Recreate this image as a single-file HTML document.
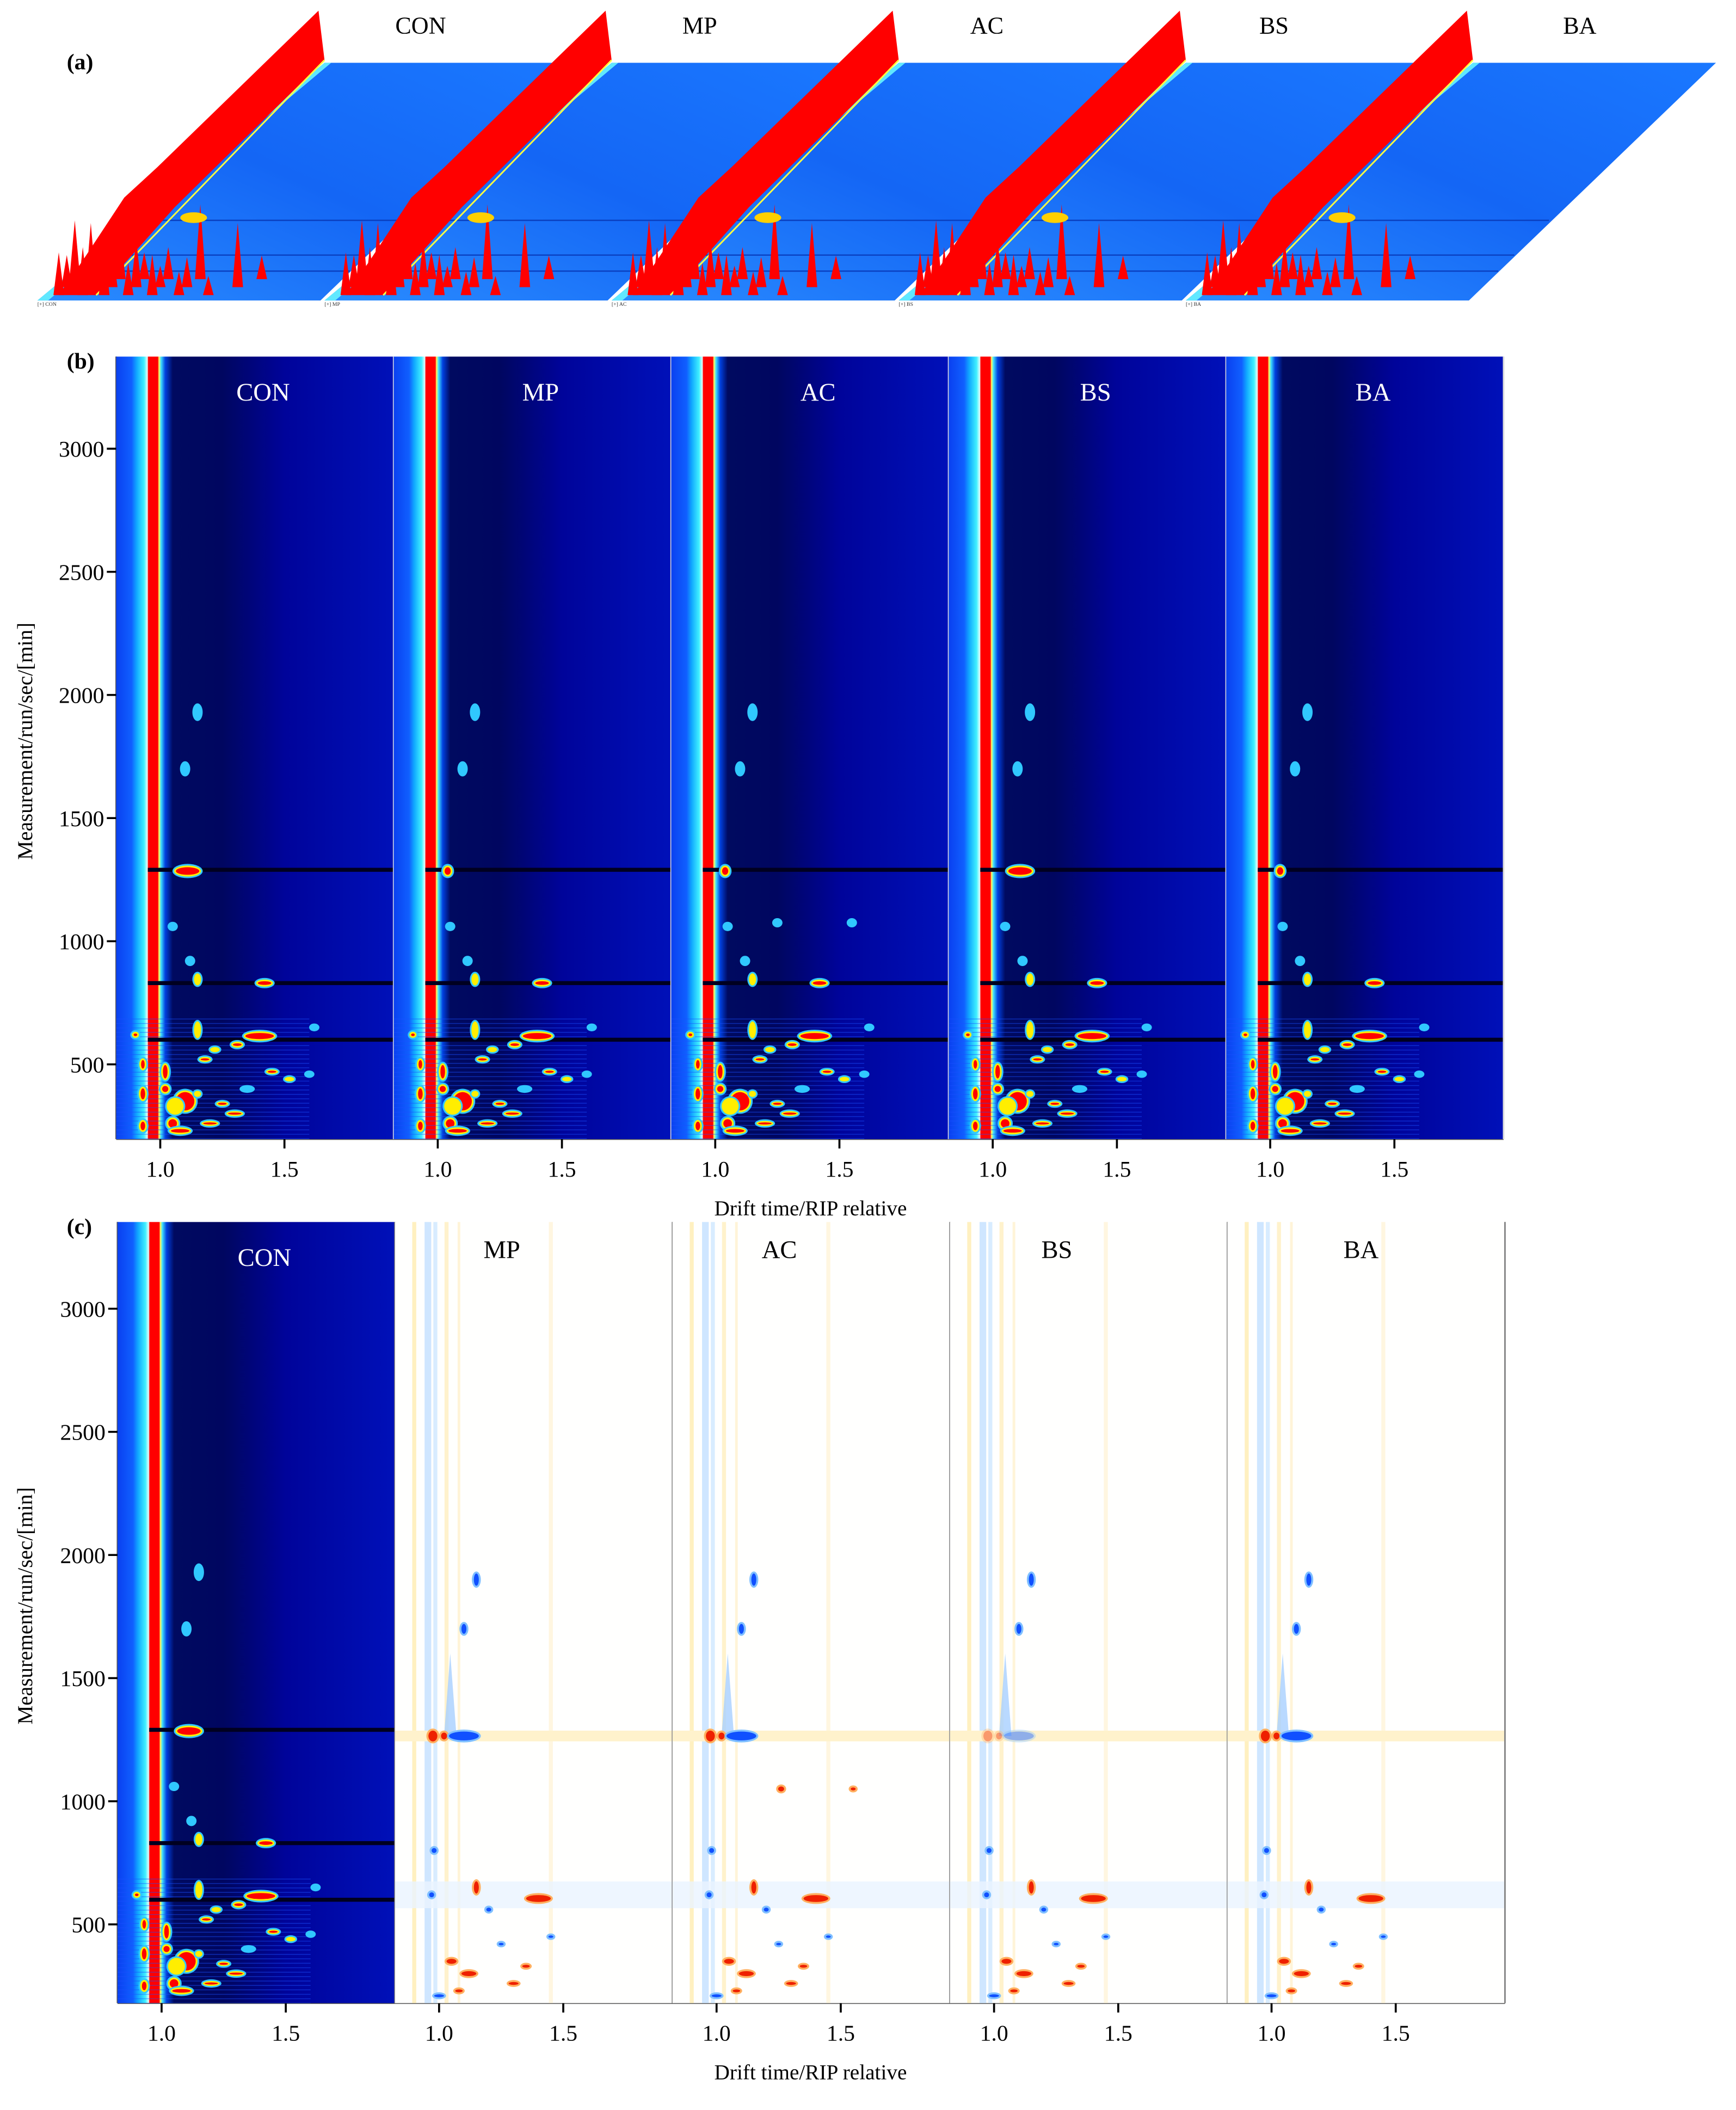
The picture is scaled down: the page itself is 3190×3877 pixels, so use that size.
<!DOCTYPE html>
<html><head><meta charset="utf-8"><style>
html,body{margin:0;padding:0;background:#fff}
svg{display:block}
text{font-family:"Liberation Serif",serif}
</style></head><body>
<svg id="fig" xmlns="http://www.w3.org/2000/svg" width="3190" height="3877" viewBox="0 0 1300 1580">
<defs>
<linearGradient id="floorG" x1="0" y1="1" x2="1" y2="0">
<stop offset="0" stop-color="#2a8cff"/><stop offset="0.5" stop-color="#1466f5"/><stop offset="1" stop-color="#1a78ff"/>
</linearGradient>
</defs>
<rect width="1300" height="1580" fill="#fff"/>
<g id="pa"></g>
<g id="pb"></g>
<g id="pc"></g>
</svg>
<script>
const samples=["CON","MP","AC","BS","BA"];
const yTicks=[500,1000,1500,2000,2500,3000];
const xTicks=[1.0,1.5];
// spots: drift, time(s), drift radius, time radius, level(1 cyan,2 yellow,3 red)
const spotDrift=[1.11,1.42,1.15,1.15,1.40,1.12,1.62,1.31,1.22,1.18,1.45,1.52,1.10,1.06,1.25,1.30,1.20,0.90,0.93,0.93,0.93,1.02,1.02,1.05,1.08,1.15,1.35,1.60,1.05,1.10,1.15,1.55,1.25];
const spotTime=[1285,830,845,640,615,920,650,580,560,520,470,440,350,330,340,300,260,620,500,380,250,470,400,260,230,380,400,460,1060,1700,1930,1075,1075];
const spotRd=[0.05,0.03,0.01,0.01,0.06,0.01,0.01,0.02,0.015,0.02,0.02,0.015,0.04,0.03,0.02,0.03,0.03,0.01,0.01,0.012,0.012,0.012,0.015,0.02,0.04,0.01,0.02,0.01,0.01,0.01,0.01,0.01,0.01];
const spotRt=[18,10,20,30,15,10,5,8,6,6,5,5,40,30,5,6,6,8,20,25,20,30,15,20,10,8,5,4,8,20,25,8,8];
const spotLevel=[3,3,2,2,3,1,1,3,2,3,3,2,3,2,3,3,3,3,3,3,3,3,3,3,3,2,1,1,1,1,1,1,1];
// difference-plot features: drift,time,radius,time radius,sign(+red/-blue)
const diffDrift=[0.975,1.02,1.10,1.10,1.15,1.40,1.26,1.55,0.97,1.15,1.25,1.05,0.98,1.12,1.35,1.20,1.30,1.45,1.00,1.08];
const diffTime=[1265,1265,1265,1700,1900,605,1050,1050,620,650,420,350,800,300,330,560,260,450,210,230];
const diffRd=[0.018,0.012,0.06,0.01,0.01,0.05,0.012,0.01,0.01,0.01,0.01,0.02,0.01,0.03,0.015,0.01,0.02,0.01,0.02,0.015];
const diffRt=[22,14,18,20,25,14,10,6,10,25,5,10,10,10,6,8,6,5,6,6];
const diffSign=[1,1,-1,-1,-1,1,1,1,-1,1,-1,1,-1,1,1,-1,1,-1,-1,1];

const NS="http://www.w3.org/2000/svg";
function el(tag,attrs,parent){const e=document.createElementNS(NS,tag);for(const k in attrs)e.setAttribute(k,attrs[k]);if(parent)parent.appendChild(e);return e;}
function txt(s,attrs,parent){const e=el("text",attrs,parent);e.textContent=s;return e;}

/* ---------- panel (a) 3D ---------- */
const pa=document.getElementById("pa");
const aOff=[0,215,430,645,860];
const peakX=[44,50,56,62,68,72,78,84,90,96,102,108,114,120,126,134,140,150,156,178,196];
const peakH=[40,30,55,45,60,35,50,40,48,30,44,25,38,20,30,22,28,70,18,60,22];
const pl=txt("(a)",{x:50,y:52,"font-size":17,"font-weight":"bold"},pa);


samples.forEach((s,i)=>{
  const o=aOff[i];
  const g=el("g",{},pa);
  
  
  const fl=el("polygon",{points:`${28+o},225 ${240+o},225 ${425+o},47 ${243+o},47`,fill:"url(#floorG)"},g);
  
  
  el("polygon",{points:`${28+o},225 ${36+o},225 ${248+o},47 ${243+o},47`,fill:"#60e8ff"},g);
  [165,191,203].forEach(y=>el("line",{x1:28+o+(225-y)*1.2,y1:y,x2:240+o+(225-y)*1.0,y2:y,stroke:"#0a40c0","stroke-width":1},g));
  const r=el("polygon",{points:`${238.5+o},8 ${243+o},45 ${131+o},155 ${72+o},221 ${44+o},221 ${62+o},195 ${93+o},148 ${118+o},125`,fill:"#ff0000"},g);
  
  
  el("line",{x1:243+o,y1:45,x2:72+o,y2:221,stroke:"#ffff40","stroke-width":1.2},g);
  peakX.forEach((px,k)=>{
    const base=221-(k%3)*6;
    const p=el("polygon",{points:`${px+o-4},${base} ${px+o},${base-peakH[k]*0.8} ${px+o+4},${base}`,fill:"#ff0000"},g);
    
    
  });
  el("ellipse",{cx:145+o,cy:163,rx:10,ry:4,fill:"#ffd000"},g);
  txt("[+] "+s,{x:28+o,y:229,"font-size":4,"font-family":"Liberation Sans",fill:"#333"},g);
  const t=txt(s,{x:315+o+(i==4?8:(i==0?0:-6)),y:25,"font-size":18,"text-anchor":"middle"},g);
  
  
});

/* ---------- heatmap panels ---------- */
function panel(root,cfg,letter){
  const {left,top,bottom,w,y3000,pxu,dx}=cfg;
  const yS=v=>y3000+(3000-v)*pxu;
  const lab=txt(letter,{x:50,y:top+9,"font-size":17,"font-weight":"bold"},root);
  
  
  el("line",{x1:left,y1:top,x2:left,y2:bottom,stroke:"#555","stroke-width":1.2},root);
  yTicks.forEach(v=>{
    el("line",{x1:left-7,y1:yS(v),x2:left,y2:yS(v),stroke:"#000","stroke-width":1.5},root);
    const t=txt(String(v),{x:left-9,y:yS(v)+6,"font-size":17,"text-anchor":"end"},root);
    
    
  });
  const yt=txt("Measurement/run/sec/[min]",{x:0,y:0,"font-size":16,"text-anchor":"middle",transform:`translate(24,${(top+bottom)/2-5}) rotate(-90)`},root);
  
  
  el("line",{x1:left,y1:bottom,x2:left+5*w,y2:bottom,stroke:"#555","stroke-width":1.2},root);
  const xt=txt("Drift time/RIP relative",{x:607,y:bottom+57,"font-size":16,"text-anchor":"middle"},root);
  
  
  samples.forEach((s,i)=>{
    const L=left+i*w;
    const xS=d=>L+33+(d-1)*dx;
    const g=el("g",{},root);
    
    
    const clipId="c"+letter[1]+i;
    const cp=el("clipPath",{id:clipId},g);el("rect",{x:L,y:top,width:w,height:bottom-top},cp);
    const inner=el("g",{"clip-path":`url(#${clipId})`},g);
    const diff=(cfg.diff&&i>0);
    if(!diff){
      const gid="bg"+letter[1]+i;
      const lg=el("linearGradient",{id:gid,x1:L,x2:L+w,y1:0,y2:0,gradientUnits:"userSpaceOnUse"},g);
      [[0.82,"#0a40f0"],[0.885,"#1060ff"],[0.905,"#10a8ff"],[0.935,"#40f0ff"],[0.948,"#e0ffff"],[0.952,"#ff0000"],[0.99,"#ff0000"],[0.995,"#ffff60"],[1.003,"#40e0ff"],[1.02,"#0040e0"],[1.05,"#000a60"],[1.25,"#000660"],[1.5,"#00049a"],[1.93,"#0010b8"]]
        .forEach(([d,c])=>el("stop",{offset:Math.max(0,Math.min(1,(xS(d)-L)/w)),"stop-color":c},lg));
      el("rect",{x:L,y:top,width:w,height:bottom-top,fill:`url(#${gid})`},inner);
      for(let t=180;t<700;t+=18) el("line",{x1:L,y1:yS(t),x2:xS(1.6),y2:yS(t),stroke:"#1a50ff","stroke-width":0.6,opacity:0.5},inner);
      [1290,830,600].forEach(t=>el("rect",{x:xS(0.95),y:yS(t)-1.5,width:w,height:3,fill:"#000020"},inner));
      spotDrift.forEach((d,k)=>{
        if((k==31||k==32)&&i!=2)return;
        let rd=spotRd[k],lv=spotLevel[k];
        if(k==0&&(i==1||i==2||i==4)){rd=0.015;}
        const cx=(k==0&&rd<0.02)?xS(1.04):xS(d);
        const rx=rd*dx,ry=spotRt[k]*pxu;
        const a=el("ellipse",{cx,cy:yS(spotTime[k]),rx:rx+2,ry:ry+2,fill:"#30c8ff"},inner);
        
        
        if(lv>=2) el("ellipse",{cx,cy:yS(spotTime[k]),rx:rx+0.8,ry:ry+0.8,fill:"#ffee00"},inner);
        if(lv>=3) el("ellipse",{cx,cy:yS(spotTime[k]),rx:Math.max(rx-0.5,0.8),ry:Math.max(ry-0.5,0.8),fill:"#ff0000"},inner);
      });
      const tt=txt(s,{x:L+110,y:top+33,"font-size":19,fill:"#fff","text-anchor":"middle"},g);
      
      
    } else {
      el("rect",{x:L,y:top,width:w,height:bottom-top,fill:"#fffffe"},inner);
      [[0.90,"#fff0c0",3],[0.955,"#cfe6ff",5],[0.985,"#d8ecff",3],[1.03,"#fff2cc",3],[1.08,"#fff4d8",2],[1.45,"#fff6e0",3]]
        .forEach(([d,c,ww])=>el("rect",{x:xS(d)-ww/2,y:top,width:ww,height:bottom-top,fill:c},inner));
      el("rect",{x:L,y:yS(1265)-4,width:w,height:8,fill:"#fff2cc"},inner);
      el("rect",{x:L,y:yS(620)-10,width:w,height:20,fill:"#eaf4ff",opacity:0.8},inner);
      el("path",{d:`M${xS(1.02)},${yS(1265)} L${xS(1.045)},${yS(1600)} L${xS(1.07)},${yS(1265)} Z`,fill:"#a8d0ff",opacity:0.8},inner);
      diffDrift.forEach((d,k)=>{
        if((k==6||k==7)&&i!=2)return;
        const c=diffSign[k]>0?"#ee2000":"#1050ff";
        const halo=diffSign[k]>0?"#ffb060":"#80c0ff";
        const cx=xS(d),cy=yS(diffTime[k]),rx=diffRd[k]*dx,ry=diffRt[k]*cfg.pxu;
        const op=(i==3&&(k<3))?0.35:1;
        const a=el("ellipse",{cx,cy,rx:rx+1.5,ry:ry+1.5,fill:halo,opacity:op},inner);
        
        
        el("ellipse",{cx,cy,rx,ry,fill:c,opacity:op},inner);
      });
      const tt=txt(s,{x:L+(s=="BA"?100:80),y:top+27,"font-size":19,fill:"#000","text-anchor":"middle"},g);
      
      
    }
    el("line",{x1:L+w,y1:top,x2:L+w,y2:bottom,stroke:cfg.diff?"#888":"#ddd","stroke-width":1.2},g);
    xTicks.forEach(d=>{
      el("line",{x1:xS(d),y1:bottom,x2:xS(d),y2:bottom+7,stroke:"#000","stroke-width":1.5},g);
      const t=txt(d.toFixed(1),{x:xS(d),y:bottom+28,"font-size":17,"text-anchor":"middle"},g);
      
      
    });
  });
}
panel(document.getElementById("pb"),{left:87,top:267,bottom:853,w:207.8,y3000:336,pxu:0.1844,dx:186,diff:false},"(b)");
panel(document.getElementById("pc"),{left:88,top:915,bottom:1500,w:207.8,y3000:980,pxu:0.1844,dx:186,diff:true},"(c)");
</script>
</body></html>
